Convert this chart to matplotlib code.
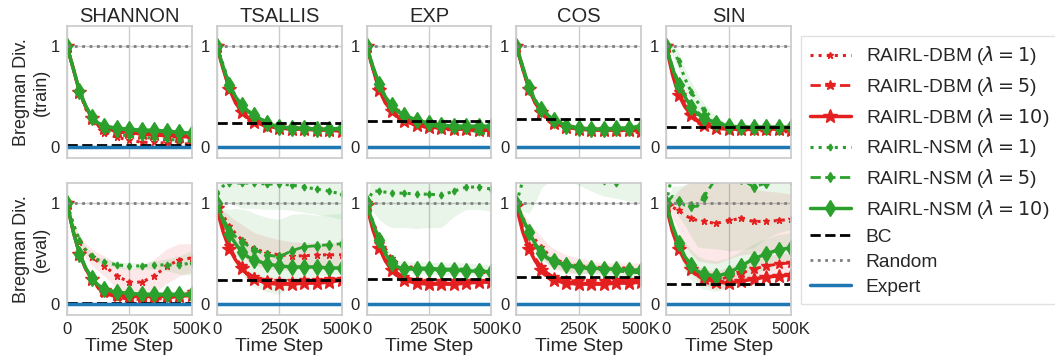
import numpy as np
import matplotlib.pyplot as plt
import seaborn as sns

#-------------------------------------------------------------------------
# data
steps = [0, 25000, 50000, 75000, 100000, 125000, 150000, 200000,
         250000, 300000, 350000, 400000, 450000, 500000]
tasks = ['SHANNON', 'TSALLIS', 'EXP', 'COS', 'SIN']
labels = [r'RAIRL-DBM ($\lambda=1$)', r'RAIRL-DBM ($\lambda=5$)', r'RAIRL-DBM ($\lambda=10$)',
          r'RAIRL-NSM ($\lambda=1$)', r'RAIRL-NSM ($\lambda=5$)', r'RAIRL-NSM ($\lambda=10$)']

# rows: DBM l=1, DBM l=5, DBM l=10, NSM l=1, NSM l=5, NSM l=10
shannon_train = [
  [1.0, 0.78, 0.55, 0.38, 0.27, 0.19, 0.14, 0.10, 0.07, 0.05, 0.05, 0.04, 0.04, 0.03],
  [1.0, 0.78, 0.55, 0.40, 0.29, 0.22, 0.18, 0.15, 0.14, 0.13, 0.12, 0.11, 0.10, 0.09],
  [1.0, 0.78, 0.55, 0.40, 0.29, 0.22, 0.19, 0.16, 0.15, 0.14, 0.13, 0.12, 0.11, 0.10],
  [1.0, 0.78, 0.56, 0.40, 0.29, 0.21, 0.17, 0.13, 0.11, 0.10, 0.09, 0.08, 0.07, 0.06],
  [1.0, 0.78, 0.56, 0.41, 0.30, 0.24, 0.20, 0.18, 0.17, 0.16, 0.16, 0.15, 0.14, 0.12],
  [1.0, 0.78, 0.56, 0.41, 0.30, 0.24, 0.21, 0.19, 0.18, 0.17, 0.17, 0.16, 0.15, 0.14]]
tsallis_train = [
  [1.0, 0.80, 0.60, 0.46, 0.37, 0.31, 0.27, 0.22, 0.20, 0.19, 0.18, 0.18, 0.17, 0.16],
  [1.0, 0.78, 0.58, 0.45, 0.36, 0.30, 0.26, 0.22, 0.20, 0.19, 0.18, 0.18, 0.17, 0.17],
  [1.0, 0.78, 0.58, 0.44, 0.35, 0.29, 0.25, 0.21, 0.19, 0.18, 0.18, 0.17, 0.17, 0.16],
  [1.0, 0.82, 0.64, 0.50, 0.41, 0.35, 0.31, 0.25, 0.21, 0.19, 0.18, 0.18, 0.18, 0.17],
  [1.0, 0.80, 0.62, 0.50, 0.42, 0.36, 0.32, 0.25, 0.21, 0.19, 0.19, 0.18, 0.18, 0.18],
  [1.0, 0.80, 0.62, 0.50, 0.42, 0.36, 0.32, 0.24, 0.20, 0.19, 0.19, 0.18, 0.18, 0.19]]
exp_train = [
  [1.0, 0.78, 0.58, 0.45, 0.37, 0.31, 0.27, 0.22, 0.19, 0.18, 0.17, 0.17, 0.16, 0.14],
  [1.0, 0.78, 0.58, 0.45, 0.37, 0.31, 0.27, 0.22, 0.20, 0.19, 0.18, 0.17, 0.17, 0.16],
  [1.0, 0.78, 0.57, 0.44, 0.36, 0.30, 0.26, 0.22, 0.20, 0.19, 0.18, 0.18, 0.17, 0.17],
  [1.0, 0.80, 0.62, 0.49, 0.41, 0.35, 0.30, 0.25, 0.22, 0.20, 0.19, 0.18, 0.15, 0.12],
  [1.0, 0.80, 0.63, 0.50, 0.42, 0.36, 0.32, 0.26, 0.23, 0.21, 0.21, 0.20, 0.20, 0.20],
  [1.0, 0.80, 0.63, 0.50, 0.42, 0.36, 0.32, 0.27, 0.24, 0.22, 0.21, 0.21, 0.21, 0.21]]
cos_train = [
  [1.0, 0.78, 0.58, 0.44, 0.36, 0.30, 0.25, 0.20, 0.18, 0.18, 0.17, 0.17, 0.16, 0.14],
  [1.0, 0.78, 0.58, 0.44, 0.35, 0.29, 0.25, 0.20, 0.18, 0.18, 0.18, 0.17, 0.17, 0.16],
  [1.0, 0.78, 0.58, 0.44, 0.35, 0.29, 0.24, 0.20, 0.18, 0.17, 0.17, 0.17, 0.17, 0.16],
  [1.0, 0.80, 0.61, 0.47, 0.39, 0.33, 0.28, 0.22, 0.19, 0.18, 0.18, 0.18, 0.18, 0.18],
  [1.0, 0.80, 0.60, 0.46, 0.38, 0.32, 0.27, 0.22, 0.19, 0.18, 0.18, 0.19, 0.19, 0.22],
  [1.0, 0.80, 0.60, 0.46, 0.38, 0.32, 0.27, 0.21, 0.19, 0.18, 0.18, 0.19, 0.19, 0.20]]
sin_train = [
  [1.0, 0.76, 0.57, 0.45, 0.35, 0.28, 0.23, 0.19, 0.18, 0.17, 0.17, 0.16, 0.16, 0.15],
  [1.0, 0.74, 0.55, 0.42, 0.33, 0.27, 0.23, 0.19, 0.18, 0.18, 0.17, 0.17, 0.17, 0.16],
  [1.0, 0.72, 0.52, 0.40, 0.32, 0.26, 0.22, 0.19, 0.18, 0.18, 0.18, 0.18, 0.18, 0.17],
  [1.0, 0.98, 0.85, 0.68, 0.55, 0.45, 0.37, 0.26, 0.21, 0.20, 0.19, 0.19, 0.19, 0.19],
  [1.0, 0.80, 0.64, 0.52, 0.42, 0.35, 0.30, 0.24, 0.21, 0.21, 0.20, 0.20, 0.20, 0.19],
  [1.0, 0.78, 0.62, 0.50, 0.40, 0.33, 0.29, 0.24, 0.21, 0.20, 0.20, 0.20, 0.20, 0.20]]

shannon_eval = [
  [1.0, 0.78, 0.62, 0.53, 0.47, 0.42, 0.38, 0.28, 0.22, 0.22, 0.28, 0.38, 0.44, 0.46],
  [1.0, 0.72, 0.50, 0.35, 0.24, 0.16, 0.11, 0.07, 0.05, 0.05, 0.05, 0.06, 0.08, 0.12],
  [1.0, 0.72, 0.50, 0.35, 0.25, 0.18, 0.14, 0.10, 0.08, 0.08, 0.08, 0.08, 0.08, 0.09],
  [1.0, 0.80, 0.64, 0.54, 0.48, 0.44, 0.42, 0.39, 0.38, 0.38, 0.39, 0.39, 0.39, 0.41],
  [1.0, 0.72, 0.50, 0.36, 0.26, 0.19, 0.15, 0.11, 0.10, 0.09, 0.09, 0.09, 0.09, 0.09],
  [1.0, 0.72, 0.50, 0.36, 0.26, 0.19, 0.15, 0.12, 0.11, 0.10, 0.10, 0.10, 0.10, 0.10]]
tsallis_eval = [
  [1.0, 0.88, 0.78, 0.70, 0.64, 0.59, 0.55, 0.51, 0.49, 0.48, 0.48, 0.49, 0.49, 0.49],
  [0.97, 0.75, 0.58, 0.46, 0.38, 0.31, 0.27, 0.24, 0.23, 0.23, 0.24, 0.24, 0.25, 0.25],
  [0.95, 0.72, 0.55, 0.44, 0.36, 0.29, 0.25, 0.21, 0.20, 0.20, 0.21, 0.21, 0.22, 0.24],
  [1.1, 1.17, 1.20, 1.20, 1.20, 1.20, 1.20, 1.19, 1.19, 1.18, 1.16, 1.14, 1.12, 1.09],
  [1.0, 0.85, 0.74, 0.67, 0.62, 0.58, 0.54, 0.49, 0.47, 0.53, 0.57, 0.58, 0.59, 0.60],
  [1.0, 0.82, 0.70, 0.60, 0.52, 0.47, 0.44, 0.40, 0.38, 0.37, 0.37, 0.37, 0.36, 0.36]]
exp_eval = [
  [1.0, 0.82, 0.67, 0.55, 0.46, 0.41, 0.38, 0.36, 0.35, 0.34, 0.34, 0.33, 0.32, 0.31],
  [1.0, 0.78, 0.60, 0.47, 0.37, 0.31, 0.27, 0.24, 0.23, 0.23, 0.23, 0.23, 0.23, 0.24],
  [0.98, 0.74, 0.56, 0.43, 0.34, 0.28, 0.24, 0.21, 0.20, 0.20, 0.20, 0.21, 0.22, 0.22],
  [1.0, 1.12, 1.12, 1.11, 1.10, 1.10, 1.10, 1.09, 1.09, 1.08, 1.12, 1.16, 1.16, 1.14],
  [1.0, 0.82, 0.66, 0.53, 0.44, 0.39, 0.37, 0.36, 0.36, 0.35, 0.35, 0.35, 0.34, 0.33],
  [1.0, 0.80, 0.64, 0.50, 0.41, 0.37, 0.35, 0.35, 0.35, 0.34, 0.34, 0.33, 0.33, 0.32]]
cos_eval = [
  [1.0, 0.86, 0.74, 0.64, 0.57, 0.50, 0.45, 0.40, 0.38, 0.37, 0.36, 0.36, 0.36, 0.36],
  [1.0, 0.76, 0.58, 0.46, 0.37, 0.31, 0.27, 0.24, 0.23, 0.23, 0.23, 0.24, 0.24, 0.25],
  [0.97, 0.72, 0.55, 0.43, 0.34, 0.28, 0.24, 0.21, 0.20, 0.20, 0.20, 0.21, 0.21, 0.22],
  [1.0, 1.22, 1.28, 1.30, 1.30, 1.30, 1.30, 1.28, 1.26, 1.24, 1.22, 1.20, 1.24, 1.26],
  [1.0, 0.84, 0.70, 0.58, 0.50, 0.45, 0.42, 0.38, 0.36, 0.35, 0.34, 0.33, 0.32, 0.31],
  [1.0, 0.85, 0.72, 0.60, 0.51, 0.46, 0.43, 0.39, 0.37, 0.36, 0.35, 0.35, 0.34, 0.34]]
sin_eval = [
  [1.0, 0.96, 0.93, 0.88, 0.85, 0.83, 0.82, 0.80, 0.83, 0.85, 0.82, 0.82, 0.83, 0.84],
  [0.98, 0.74, 0.57, 0.45, 0.37, 0.31, 0.27, 0.24, 0.27, 0.31, 0.35, 0.38, 0.40, 0.41],
  [0.97, 0.72, 0.55, 0.43, 0.35, 0.29, 0.26, 0.22, 0.21, 0.23, 0.25, 0.27, 0.28, 0.29],
  [1.0, 1.30, 1.35, 1.36, 1.36, 1.35, 1.35, 1.34, 1.33, 1.33, 1.32, 1.32, 1.32, 1.32],
  [1.0, 1.07, 1.02, 0.98, 0.97, 0.97, 1.06, 1.25, 1.28, 1.24, 1.16, 1.20, 1.26, 1.24],
  [1.0, 0.78, 0.61, 0.47, 0.39, 0.33, 0.30, 0.28, 0.31, 0.38, 0.45, 0.50, 0.54, 0.56]]

train_curves = [shannon_train, tsallis_train, exp_train, cos_train, sin_train]
eval_curves = [shannon_eval, tsallis_eval, exp_eval, cos_eval, sin_eval]

# half widths of the shaded bands (task index, series index)
train_bands = {
  (4, 3): [0, 0.07, 0.09, 0.10, 0.10, 0.09, 0.07, 0.04, 0.02, 0.02, 0.02, 0.02, 0.02, 0.02]}
eval_bands = {
  (0, 0): [0, 0.03, 0.05, 0.07, 0.08, 0.09, 0.10, 0.12, 0.13, 0.15, 0.17, 0.17, 0.16, 0.14],
  (0, 3): [0, 0.02, 0.03, 0.03, 0.03, 0.03, 0.03, 0.03, 0.03, 0.03, 0.04, 0.06, 0.09, 0.12],
  (0, 1): [0, 0.01, 0.02, 0.02, 0.02, 0.02, 0.02, 0.02, 0.02, 0.02, 0.02, 0.03, 0.04, 0.05],
  (1, 0): [0, 0.05, 0.10, 0.13, 0.15, 0.16, 0.16, 0.16, 0.15, 0.14, 0.13, 0.12, 0.12, 0.12],
  (1, 3): [0, 0.15, 0.20, 0.22, 0.25, 0.25, 0.25, 0.25, 0.25, 0.25, 0.25, 0.25, 0.25, 0.25],
  (1, 4): [0, 0.10, 0.20, 0.28, 0.32, 0.35, 0.36, 0.37, 0.37, 0.36, 0.33, 0.30, 0.30, 0.30],
  (2, 3): [0, 0.20, 0.28, 0.32, 0.34, 0.34, 0.34, 0.34, 0.33, 0.32, 0.25, 0.22, 0.22, 0.22],
  (2, 4): [0, 0.03, 0.04, 0.05, 0.05, 0.05, 0.05, 0.06, 0.06, 0.06, 0.06, 0.06, 0.06, 0.06],
  (3, 0): [0, 0.05, 0.08, 0.10, 0.10, 0.10, 0.10, 0.09, 0.08, 0.06, 0.05, 0.05, 0.05, 0.05],
  (3, 3): [0, 0.30, 0.38, 0.30, 0.15, 0.10, 0.08, 0.06, 0.08, 0.12, 0.15, 0.15, 0.22, 0.26],
  (3, 4): [0, 0.03, 0.04, 0.05, 0.05, 0.05, 0.05, 0.05, 0.05, 0.05, 0.05, 0.05, 0.05, 0.05],
  (4, 0): [0, 0.10, 0.20, 0.30, 0.35, 0.40, 0.40, 0.40, 0.38, 0.36, 0.32, 0.30, 0.28, 0.25],
  (4, 1): [0, 0.02, 0.04, 0.05, 0.06, 0.07, 0.08, 0.09, 0.10, 0.10, 0.10, 0.10, 0.10, 0.10],
  (4, 4): [0, 0.10, 0.15, 0.20, 0.30, 0.40, 0.50, 0.70, 0.75, 0.70, 0.60, 0.55, 0.55, 0.50],
  (4, 5): [0, 0.05, 0.10, 0.15, 0.15, 0.15, 0.15, 0.15, 0.15, 0.15, 0.15, 0.15, 0.15, 0.15]}

bc_train = [0.02, 0.24, 0.26, 0.28, 0.20]
bc_eval = [0.01, 0.24, 0.25, 0.27, 0.20]
random_level = 1.0
expert_level = 0.0

#-------------------------------------------------------------------------
sns.set_theme(style='whitegrid')
plt.rcParams['font.family'] = ['Liberation Sans', 'DejaVu Sans']

colors = ['#e3201f', '#e3201f', '#e3201f', '#2ca02c', '#2ca02c', '#2ca02c']
styles = [':', '--', '-', ':', '--', '-']
markers = ['*', '*', '*', 'd', 'd', 'd']
msizes = [5, 7, 10, 3.5, 5.5, 8]
lwidths = [2.2, 2.0, 2.5, 2.2, 2.0, 2.5]

x = np.array(steps)
mark_idx = list(np.nonzero(x % 50000 == 0)[0])

fig, axs = plt.subplots(2, 5, figsize=(10.55, 3.58), dpi=100)
fig.subplots_adjust(left=0.0635, right=0.7498, bottom=0.1201, top=0.9274,
                    wspace=0.2, hspace=0.19)

for row, (curves, bands, bc) in enumerate([(train_curves, train_bands, bc_train),
                                            (eval_curves, eval_bands, bc_eval)]):
  for i in range(5):
    ax = axs[row, i]
    for s in range(6):
      y = np.array(curves[i][s])
      if (i, s) in bands:
        hw = np.array(bands[(i, s)])
        ax.fill_between(x, y - hw, y + hw, color=colors[s], alpha=0.1, linewidth=0)
      ax.plot(x, y, color=colors[s], linestyle=styles[s], linewidth=lwidths[s],
              marker=markers[s], markersize=msizes[s], markevery=mark_idx,
              label=labels[s])
    ax.axhline(bc[i], color='black', linestyle='--', linewidth=2, label='BC')
    ax.axhline(random_level, color='grey', linestyle=':', linewidth=2, label='Random')
    ax.axhline(expert_level, color='#1f77b4', linestyle='-', linewidth=2.5, label='Expert')

    ax.set_xlim(0, 500000)
    ax.set_ylim(-0.105, 1.2)
    ax.set_xticks([0, 250000, 500000])
    ax.set_yticks([0, 1])
    ax.set_yticklabels(['0', '1'])
    ax.tick_params(labelsize=12, length=0, pad=5)
    if row == 0:
      ax.set_xticklabels([])
      ax.set_title(tasks[i], fontsize=14.5, pad=3)
    else:
      ax.set_xticklabels(['0', '250K', '500K'])
      ax.set_xlabel('Time Step', fontsize=14, labelpad=1)
    if i == 0:
      ax.set_ylabel('Bregman Div.\n(train)' if row == 0 else 'Bregman Div.\n(eval)',
                    fontsize=13, labelpad=1)

handles, labs = axs[0, 0].get_legend_handles_labels()
fig.legend(handles, labs, loc='center left', bbox_to_anchor=(0.7592, 0.525),
           borderaxespad=0, fontsize=13.8, handlelength=2.15, handletextpad=0.78,
           labelspacing=0.4, borderpad=0.45, fancybox=False, edgecolor='0.85')

plt.savefig('out.png', dpi=100)
